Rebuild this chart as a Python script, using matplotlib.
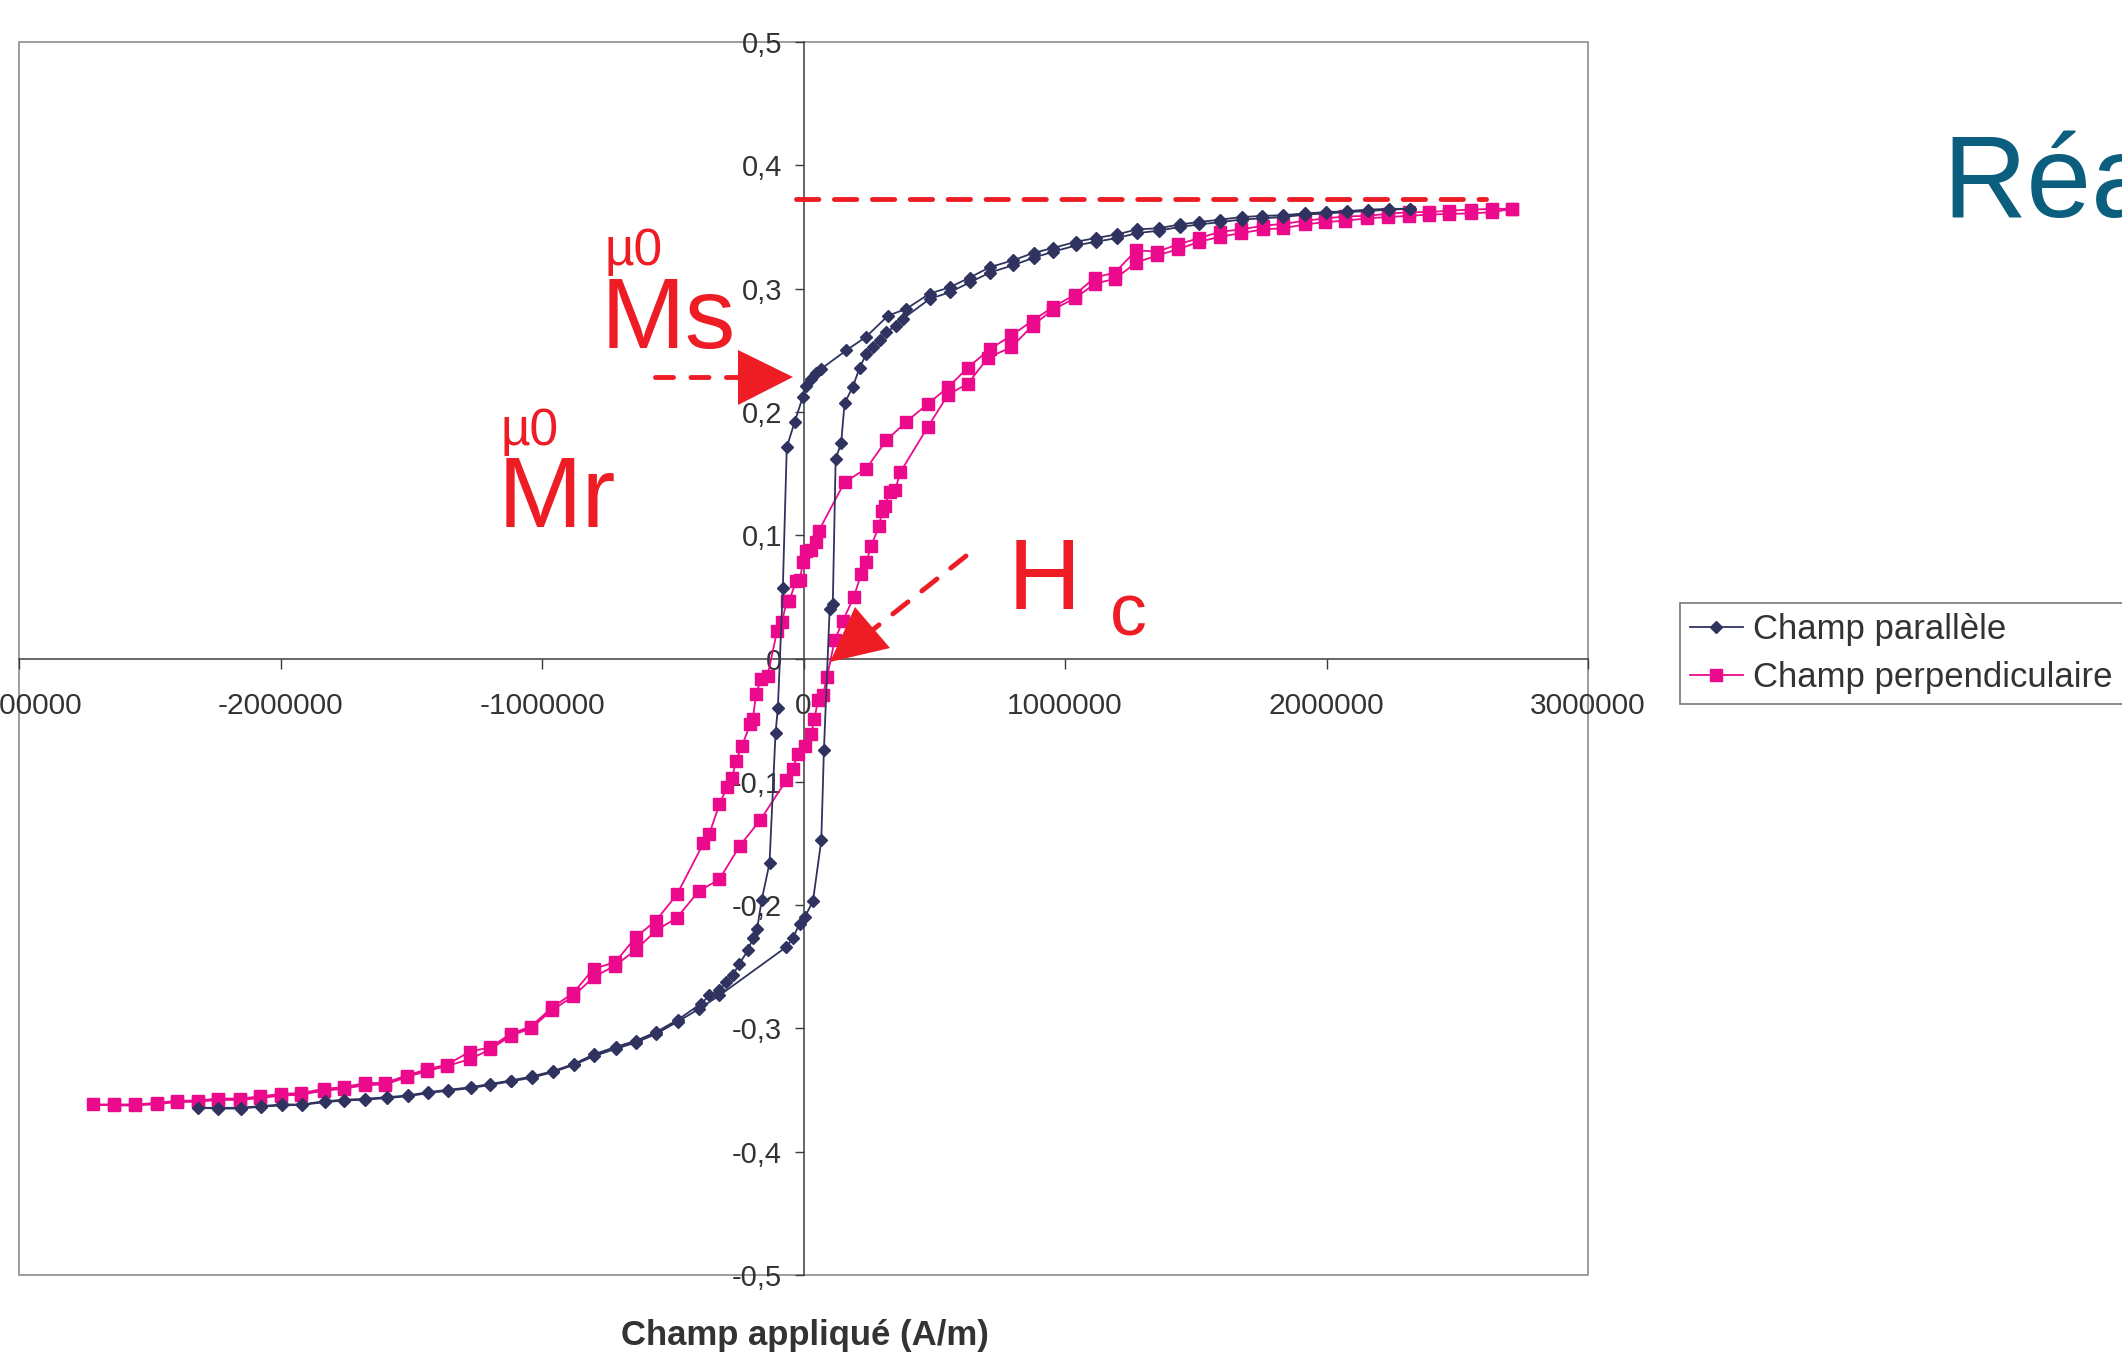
import matplotlib
matplotlib.use('Agg')
import matplotlib.pyplot as plt
import numpy as np
from matplotlib.lines import Line2D
from matplotlib.patches import Polygon, Rectangle

plt.rcParams['font.family'] = ['Liberation Sans', 'DejaVu Sans']

# --- data: applied field in MA/m, mu0*M in T ---
par_desc_h = [2.318, 2.240, 2.157, 2.079, 1.999, 1.918, 1.834, 1.755, 1.675, 1.594,
              1.514, 1.438, 1.360, 1.276, 1.199, 1.118, 1.042, 0.956, 0.880, 0.802,
              0.713, 0.636, 0.559, 0.483, 0.393, 0.323, 0.240, 0.163, 0.068, 0.049,
              0.029, 0.010, -0.003, -0.034, -0.064, -0.079, -0.098, -0.107, -0.130, -0.160,
              -0.177, -0.194, -0.213, -0.245, -0.271, -0.296, -0.322, -0.360, -0.392, -0.481,
              -0.564, -0.641, -0.718, -0.801, -0.877, -0.958, -1.040, -1.120, -1.197, -1.273,
              -1.359, -1.435, -1.513, -1.593, -1.678, -1.756, -1.831, -1.918, -1.995, -2.075,
              -2.152, -2.238, -2.314]
par_desc_m = [0.3647, 0.3647, 0.3640, 0.3628, 0.3620, 0.3610, 0.3595, 0.3590, 0.3580, 0.3560,
              0.3540, 0.3520, 0.3490, 0.3480, 0.3440, 0.3410, 0.3380, 0.3330, 0.3290, 0.3230,
              0.3174, 0.3090, 0.3010, 0.2960, 0.2836, 0.2780, 0.2610, 0.2498, 0.2350, 0.2314,
              0.2268, 0.2214, 0.2120, 0.1917, 0.1714, 0.0573, -0.0400, -0.0606, -0.1660, -0.1960,
              -0.2190, -0.2270, -0.2368, -0.2476, -0.2570, -0.2625, -0.2690, -0.2733, -0.2800, -0.2930,
              -0.3030, -0.3100, -0.3150, -0.3210, -0.3287, -0.3347, -0.3390, -0.3423, -0.3450, -0.3477,
              -0.3498, -0.3517, -0.3544, -0.3558, -0.3571, -0.3579, -0.3590, -0.3617, -0.3617, -0.3630,
              -0.3644, -0.3644, -0.3644]

par_asc_h = [-2.238, -2.152, -2.075, -1.995, -1.918, -1.831, -1.756, -1.678, -1.593, -1.513,
             -1.435, -1.359, -1.273, -1.197, -1.120, -1.040, -0.958, -0.877, -0.801, -0.718,
             -0.641, -0.564, -0.481, -0.398, -0.322, -0.066, -0.041, -0.015, 0.004, 0.036,
             0.068, 0.078, 0.100, 0.112, 0.123, 0.144, 0.157, 0.189, 0.215, 0.240,
             0.266, 0.291, 0.317, 0.355, 0.380, 0.483, 0.559, 0.636, 0.713, 0.802,
             0.880, 0.956, 1.042, 1.118, 1.199, 1.276, 1.360, 1.438, 1.514, 1.594,
             1.675, 1.755, 1.834, 1.918, 1.999, 2.079, 2.157, 2.240, 2.318]
par_asc_m = [-0.3650, -0.3650, -0.3635, -0.3625, -0.3620, -0.3598, -0.3585, -0.3578, -0.3565, -0.3550,
             -0.3525, -0.3505, -0.3485, -0.3458, -0.3430, -0.3400, -0.3355, -0.3295, -0.3225, -0.3165,
             -0.3115, -0.3045, -0.2945, -0.2840, -0.2733, -0.2340, -0.2270, -0.2150, -0.2100, -0.1970,
             -0.1476, -0.0746, 0.0400, 0.0443, 0.1620, 0.1746, 0.2070, 0.2206, 0.2360, 0.2470,
             0.2525, 0.2580, 0.2647, 0.2700, 0.2755, 0.2917, 0.2970, 0.3050, 0.3130, 0.3190,
             0.3250, 0.3300, 0.3350, 0.3380, 0.3410, 0.3450, 0.3470, 0.3500, 0.3520, 0.3540,
             0.3560, 0.3570, 0.3580, 0.3600, 0.3610, 0.3620, 0.3630, 0.3640, 0.3647]

perp_desc_h = [2.711, 2.633, 2.554, 2.469, 2.392, 2.314, 2.234, 2.153, 2.072, 1.996,
               1.918, 1.834, 1.757, 1.673, 1.591, 1.514, 1.434, 1.353, 1.272, 1.191,
               1.115, 1.037, 0.954, 0.876, 0.795, 0.713, 0.629, 0.553, 0.476, 0.393,
               0.317, 0.240, 0.157, 0.059, 0.049, 0.029, 0.010, -0.003, -0.013, -0.028,
               -0.054, -0.064, -0.082, -0.101, -0.137, -0.162, -0.181, -0.194, -0.204, -0.235,
               -0.258, -0.273, -0.292, -0.322, -0.360, -0.383, -0.484, -0.564, -0.641, -0.720,
               -0.803, -0.881, -0.960, -1.043, -1.120, -1.197, -1.277, -1.363, -1.439, -1.518,
               -1.599, -1.678, -1.759, -1.835, -1.921, -1.999, -2.078, -2.155, -2.240, -2.317,
               -2.395, -2.474, -2.557, -2.636, -2.716]
perp_desc_m = [0.3647, 0.3647, 0.3640, 0.3633, 0.3620, 0.3620, 0.3606, 0.3590, 0.3585, 0.3570,
               0.3550, 0.3525, 0.3510, 0.3480, 0.3460, 0.3410, 0.3360, 0.3300, 0.3310, 0.3130,
               0.3090, 0.2950, 0.2850, 0.2740, 0.2620, 0.2510, 0.2360, 0.2200, 0.2066, 0.1920,
               0.1770, 0.1540, 0.1430, 0.1038, 0.0943, 0.0876, 0.0870, 0.0781, 0.0640, 0.0630,
               0.0470, 0.0470, 0.0300, 0.0224, -0.0138, -0.0165, -0.0287, -0.0490, -0.0535, -0.0706,
               -0.0830, -0.0968, -0.1040, -0.1184, -0.1422, -0.1500, -0.1914, -0.2125, -0.2260, -0.2463,
               -0.2517, -0.2714, -0.2828, -0.2985, -0.3044, -0.3152, -0.3190, -0.3293, -0.3331, -0.3382,
               -0.3441, -0.3444, -0.3477, -0.3490, -0.3525, -0.3531, -0.3552, -0.3569, -0.3569, -0.3585,
               -0.3587, -0.3604, -0.3617, -0.3617, -0.3617]

perp_asc_h = [-2.636, -2.557, -2.474, -2.395, -2.317, -2.240, -2.155, -2.078, -1.999, -1.921,
              -1.835, -1.759, -1.678, -1.599, -1.518, -1.439, -1.363, -1.277, -1.197, -1.120,
              -1.043, -0.960, -0.881, -0.803, -0.720, -0.641, -0.564, -0.484, -0.401, -0.322,
              -0.243, -0.165, -0.066, -0.041, -0.022, 0.004, 0.029, 0.042, 0.055, 0.074,
              0.090, 0.119, 0.151, 0.192, 0.221, 0.240, 0.259, 0.289, 0.301, 0.310,
              0.330, 0.351, 0.370, 0.476, 0.553, 0.629, 0.706, 0.795, 0.876, 0.954,
              1.037, 1.115, 1.191, 1.272, 1.353, 1.434, 1.514, 1.591, 1.673, 1.757,
              1.834, 1.918, 1.996, 2.072, 2.153, 2.234, 2.314, 2.392, 2.469, 2.554,
              2.633, 2.711]
perp_asc_m = [-0.3625, -0.3625, -0.3615, -0.3597, -0.3595, -0.3580, -0.3580, -0.3565, -0.3545, -0.3538,
              -0.3505, -0.3490, -0.3460, -0.3455, -0.3395, -0.3345, -0.3305, -0.3250, -0.3170, -0.3060,
              -0.3000, -0.2850, -0.2740, -0.2585, -0.2490, -0.2363, -0.2206, -0.2103, -0.1887, -0.1792,
              -0.1517, -0.1309, -0.0989, -0.0895, -0.0773, -0.0706, -0.0610, -0.0490, -0.0340, -0.0300,
              -0.0150, 0.0146, 0.0308, 0.0497, 0.0687, 0.0781, 0.0916, 0.1073, 0.1200, 0.1240,
              0.1350, 0.1370, 0.1510, 0.1880, 0.2140, 0.2230, 0.2440, 0.2525, 0.2700, 0.2830,
              0.2920, 0.3040, 0.3080, 0.3210, 0.3270, 0.3320, 0.3380, 0.3420, 0.3450, 0.3480,
              0.3490, 0.3520, 0.3540, 0.3550, 0.3570, 0.3580, 0.3590, 0.3600, 0.3606, 0.3610,
              0.3620, 0.3647]

series_labels = ['Champ parallèle', 'Champ perpendiculaire']
x_ticks = [-3000000, -2000000, -1000000, 0, 1000000, 2000000, 3000000]
y_ticks = [-0.5, -0.4, -0.3, -0.2, -0.1, 0.0, 0.1, 0.2, 0.3, 0.4, 0.5]
y_tick_labels = ['-0,5', '-0,4', '-0,3', '-0,2', '-0,1', '0', '0,1', '0,2', '0,3', '0,4', '0,5']

navy = '#30335f'
pink = '#ec0a8c'
red = '#ee1c25'
axis_col = '#3c3c3c'

W, H = 2122, 1353
fig = plt.figure(figsize=(W / 100, H / 100), dpi=100)


def fx(px):
    return px / W


def fy(py):
    return 1 - py / H


ax = fig.add_axes([fx(19), fy(1275), fx(1588) - fx(19), fy(42) - fy(1275)])

par_h = np.array(par_desc_h + par_asc_h) * 1e6
par_m = np.array(par_desc_m + par_asc_m)
perp_h = np.array(perp_desc_h + perp_asc_h) * 1e6
perp_m = np.array(perp_desc_m + perp_asc_m)

l2, = ax.plot(perp_h, perp_m, color=pink, lw=1.3, marker='s', ms=8,
              mec=pink, mfc=pink, zorder=3, label=series_labels[1])
l1, = ax.plot(par_h, par_m, color=navy, lw=1.3, marker='D', ms=6.4,
              mec=navy, mfc=navy, zorder=4, label=series_labels[0])

ax.set_xlim(-3e6, 3e6)
ax.set_ylim(-0.5, 0.5)

for s in ('top', 'right'):
    ax.spines[s].set_visible(False)
ax.spines['left'].set_position(('data', 0))
ax.spines['bottom'].set_position(('data', 0))
for s in ('left', 'bottom'):
    ax.spines[s].set_color(axis_col)
    ax.spines[s].set_linewidth(1.1)
ax.add_patch(Rectangle((0, 0), 1, 1, transform=ax.transAxes, fill=False,
                       ec='#8c8c8c', lw=1.2, clip_on=False, zorder=0.5))

ax.set_xticks(x_ticks)
ax.set_xticklabels([str(v) for v in x_ticks])
ax.set_yticks(y_ticks)
ax.set_yticklabels(y_tick_labels)
ax.tick_params(axis='x', direction='out', length=7, width=1, color=axis_col,
               pad=17, labelsize=21.5, labelcolor='#333333')
ax.tick_params(axis='y', direction='out', length=6.5, width=1, color=axis_col,
               pad=9, labelsize=21, labelcolor='#333333')

fig.text(fx(805), fy(1345), 'Champ appliqué (A/m)', fontsize=25, fontweight='bold',
         color='#333333', ha='center', va='baseline')

leg = ax.legend([l1, l2], series_labels, loc='upper left',
                bbox_to_anchor=(fx(1680), fy(603)), bbox_transform=fig.transFigure,
                fontsize=25, frameon=True, fancybox=False, edgecolor='#555555',
                borderpad=0.3, labelspacing=0.42, handlelength=1.5,
                handletextpad=0.3, borderaxespad=0)
leg.get_frame().set_linewidth(1.2)
for t in leg.get_texts():
    t.set_color('#333333')

# annotations
fig.text(fx(604), fy(265), 'µ0', fontsize=37, color=red, va='baseline')
fig.text(fx(601), fy(348), 'Ms', fontsize=73, color=red, va='baseline')
fig.text(fx(500), fy(445), 'µ0', fontsize=37, color=red, va='baseline')
fig.text(fx(498), fy(527), 'Mr', fontsize=73, color=red, va='baseline')
fig.text(fx(1008), fy(609), 'H', fontsize=73, color=red, va='baseline')
fig.text(fx(1110), fy(636), 'c', fontsize=53, color=red, va='baseline')
fig.text(fx(1942), fy(217), 'Réa', fontsize=84, color='#0b5e7e', va='baseline')


def dashed(p0, p1, dashes):
    fig.add_artist(Line2D([fx(p0[0]), fx(p1[0])], [fy(p0[1]), fy(p1[1])],
                          transform=fig.transFigure, color=red, lw=3.5,
                          dashes=dashes, dash_capstyle='round'))


def head(pts):
    fig.add_artist(Polygon([(fx(x), fy(y)) for x, y in pts], closed=True,
                           transform=fig.transFigure, fc=red, ec='none'))


dashed((796, 198.5), (1486, 198.5), (4.6, 3.2))
dashed((655, 377), (740, 377), (3.7, 3.6))
head([(738, 350), (738, 405), (793, 377)])
dashed((966, 556), (870, 632), (4.0, 3.6))
head([(830, 662), (855, 607), (890, 648)])

fig.savefig('out.png', dpi=100)
